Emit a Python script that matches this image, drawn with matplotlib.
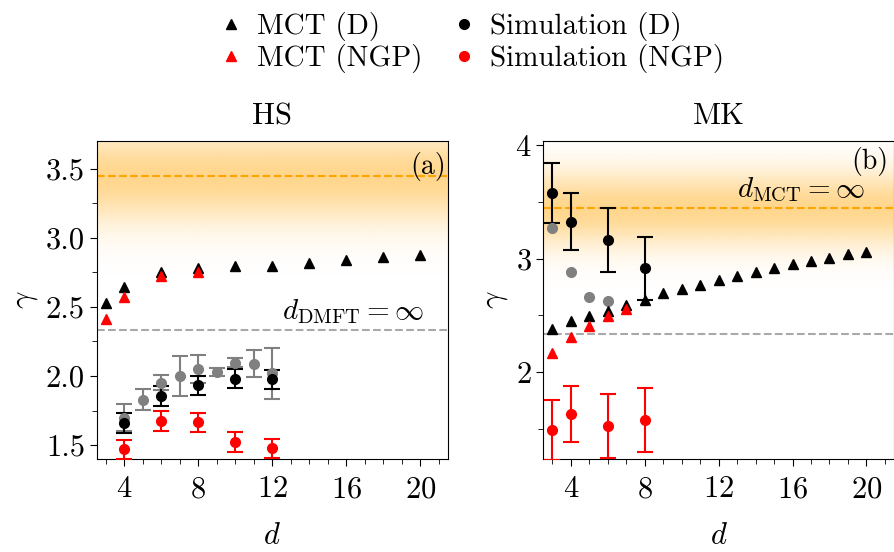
import numpy as np
import matplotlib
matplotlib.use("Agg")
import matplotlib.pyplot as plt
from matplotlib.ticker import MultipleLocator
from matplotlib.colors import to_rgb

plt.rcParams['font.family'] = 'serif'
plt.rcParams['font.serif'] = ['cmr10']
plt.rcParams['mathtext.fontset'] = 'cm'
plt.rcParams['axes.formatter.use_mathtext'] = True

# ---- HS data ----
hs_mct_d_x = [3, 4, 6, 8, 10, 12, 14, 16, 18, 20]
hs_mct_d_y = [2.53, 2.645, 2.755, 2.785, 2.795, 2.795, 2.818, 2.837, 2.86, 2.872]
hs_mct_ngp_x = [3, 4, 6, 8]
hs_mct_ngp_y = [2.415, 2.572, 2.722, 2.752]

hs_sim_d_x = [4, 6, 8, 10, 12]
hs_sim_d_y = [1.66, 1.856, 1.934, 1.982, 1.977]
hs_sim_d_err = [0.07, 0.075, 0.068, 0.072, 0.07]

hs_sim_gray_x = [4, 5, 6, 7, 8, 9, 10, 11, 12]
hs_sim_gray_y = [1.70, 1.83, 1.953, 1.999, 2.051, 2.03, 2.097, 2.09, 2.02]
hs_sim_gray_err = [0.10, 0.077, 0.055, 0.145, 0.10, 0.03, 0.035, 0.10, 0.185]

hs_sim_ngp_x = [4, 6, 8, 10, 12]
hs_sim_ngp_y = [1.469, 1.673, 1.664, 1.524, 1.476]
hs_sim_ngp_err = [0.07, 0.073, 0.07, 0.07, 0.07]

# ---- MK data ----
mk_mct_d_x = list(range(3, 21))
mk_mct_d_y = [2.378, 2.451, 2.498, 2.542, 2.595, 2.636, 2.695, 2.733, 2.768,
              2.812, 2.848, 2.88, 2.915, 2.953, 2.98, 3.003, 3.041, 3.062]
mk_mct_ngp_x = [3, 4, 5, 6, 7]
mk_mct_ngp_y = [2.172, 2.313, 2.41, 2.495, 2.554]

mk_sim_d_x = [3, 4, 6, 8]
mk_sim_d_y = [3.576, 3.326, 3.165, 2.915]
mk_sim_d_err = [0.265, 0.25, 0.285, 0.28]

mk_sim_gray_x = [3, 4, 5, 6]
mk_sim_gray_y = [3.268, 2.886, 2.66, 2.63]

mk_sim_ngp_x = [3, 4, 6, 8]
mk_sim_ngp_y = [1.491, 1.632, 1.526, 1.579]
mk_sim_ngp_err = [0.265, 0.25, 0.285, 0.28]

gamma_mct_inf = 3.445
gamma_dmft_inf = 2.335

fig = plt.figure(figsize=(8.95, 5.52), dpi=100)
ax1 = fig.add_axes([0.108, 0.1685, 0.3925, 0.576])
ax2 = fig.add_axes([0.607, 0.1685, 0.392, 0.576])

fs = 22
ms = 7


def band(ax, ylim):
    # soft orange glow around the d = infinity MCT value
    y = np.linspace(ylim[0], ylim[1], 400)
    a = 0.45 * np.exp(-((y - gamma_mct_inf) / 0.33) ** 2)
    img = np.zeros((len(y), 2, 4))
    img[:, :, :3] = to_rgb('orange')
    img[:, :, 3] = a[:, None]
    ax.imshow(img, extent=[2.5, 21.5, ylim[0], ylim[1]], origin='lower',
              aspect='auto', zorder=0, interpolation='bilinear')


def setup(ax, ylim):
    ax.set_xlim(2.5, 21.5)
    ax.set_ylim(*ylim)
    ax.xaxis.set_major_locator(MultipleLocator(4))
    ax.xaxis.set_minor_locator(MultipleLocator(1))
    ax.tick_params(which='both', direction='out', labelsize=fs)
    ax.tick_params(axis='x', pad=7)
    ax.tick_params(which='major', length=5)
    ax.tick_params(which='minor', length=3.5)
    ax.set_xlabel(r'$d$', fontsize=fs, labelpad=14)
    ax.set_ylabel(r'$\gamma$', fontsize=fs, labelpad=4)
    ax.axhline(gamma_mct_inf, color='orange', ls='--', lw=1.5, zorder=1)
    ax.axhline(gamma_dmft_inf, color='darkgray', ls='--', lw=1.5, zorder=1)


eb = dict(fmt='o', ms=ms, capsize=5.5, elinewidth=1.5, capthick=1.5, zorder=3)

# HS panel
ylim1 = (1.4, 3.7)
band(ax1, ylim1)
setup(ax1, ylim1)
ax1.yaxis.set_major_locator(MultipleLocator(0.5))
ax1.yaxis.set_minor_locator(MultipleLocator(0.25))
ax1.yaxis.set_major_formatter(plt.FormatStrFormatter('%.1f'))
ax1.errorbar(hs_sim_gray_x, hs_sim_gray_y, yerr=hs_sim_gray_err, color='gray', **eb)
ax1.errorbar(hs_sim_d_x, hs_sim_d_y, yerr=hs_sim_d_err, color='black', **eb)
ax1.errorbar(hs_sim_ngp_x, hs_sim_ngp_y, yerr=hs_sim_ngp_err, color='red', **eb)
ax1.plot(hs_mct_d_x, hs_mct_d_y, '^', color='black', ms=ms, zorder=4)
ax1.plot(hs_mct_ngp_x, hs_mct_ngp_y, '^', color='red', ms=ms, zorder=4)
ax1.set_title('HS', fontsize=fs, pad=12)
ax1.text(0.995, 0.965, '(a)', transform=ax1.transAxes, ha='right', va='top', fontsize=fs - 2)
ax1.text(20.2, 2.36, r'$d_{\rm DMFT}=\infty$', ha='right', va='bottom', fontsize=fs - 1)

# MK panel
ylim2 = (1.235, 4.037)
band(ax2, ylim2)
setup(ax2, ylim2)
ax2.yaxis.set_major_locator(MultipleLocator(1))
ax2.yaxis.set_minor_locator(MultipleLocator(0.5))
ax2.errorbar(mk_sim_d_x, mk_sim_d_y, yerr=mk_sim_d_err, color='black', **eb)
ax2.plot(mk_sim_gray_x, mk_sim_gray_y, 'o', color='gray', ms=ms, zorder=3)
ax2.errorbar(mk_sim_ngp_x, mk_sim_ngp_y, yerr=mk_sim_ngp_err, color='red', **eb)
ax2.plot(mk_mct_d_x, mk_mct_d_y, '^', color='black', ms=ms, zorder=4)
ax2.plot(mk_mct_ngp_x, mk_mct_ngp_y, '^', color='red', ms=ms, zorder=4)
ax2.set_title('MK', fontsize=fs, pad=12)
ax2.text(0.985, 0.98, '(b)', transform=ax2.transAxes, ha='right', va='top', fontsize=fs - 2)
ax2.text(19.9, 3.48, r'$d_{\rm MCT}=\infty$', ha='right', va='bottom', fontsize=fs - 1)

# legend
handles = [
    plt.Line2D([], [], marker='^', ls='', color='black', ms=ms),
    plt.Line2D([], [], marker='^', ls='', color='red', ms=ms),
    plt.Line2D([], [], marker='o', ls='', color='black', ms=ms),
    plt.Line2D([], [], marker='o', ls='', color='red', ms=ms),
]
labels = ['MCT (D)', 'MCT (NGP)', 'Simulation (D)', 'Simulation (NGP)']
fig.legend(handles, labels, ncol=2, loc='upper center', bbox_to_anchor=(0.527, 1.025),
           frameon=False, fontsize=fs - 1, handlelength=0.8, handletextpad=0.5,
           columnspacing=1.0, labelspacing=0.1)

fig.savefig('out.png', dpi=100)
